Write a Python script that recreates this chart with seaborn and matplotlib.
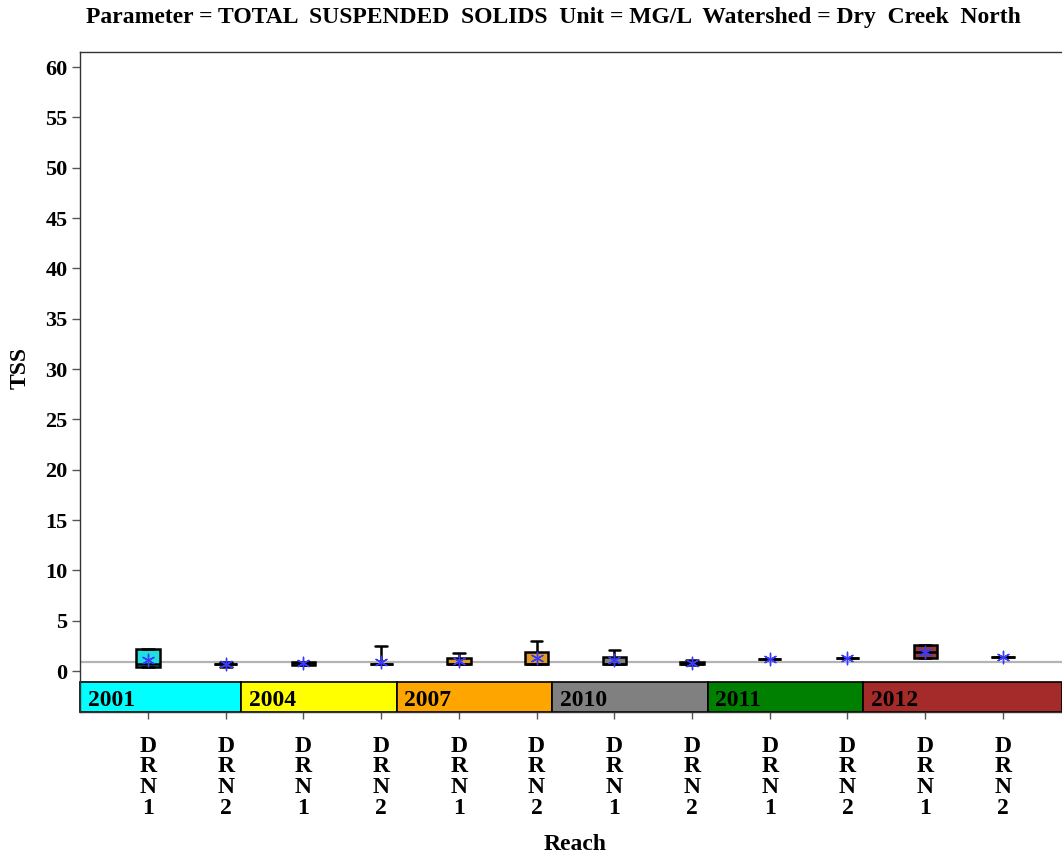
import numpy as np
import pandas as pd
import matplotlib
matplotlib.use("Agg")
import matplotlib.pyplot as plt
from matplotlib.patches import Rectangle
import seaborn as sns

# ---- data ----
years = ["2001", "2004", "2007", "2010", "2011", "2012"]
year_colors = ["#00FFFF", "#FFFF00", "#FFA500", "#808080", "#008000", "#A52A2A"]
reaches = ["DRN1", "DRN2"] * 6
box_year = [y for y in years for _ in range(2)]
box_min = [0.40, 0.40, 0.63, 0.70, 0.66, 0.66, 0.66, 0.55, 1.16, 1.29, 1.26, 1.42]
box_q1 = [0.40, 0.68, 0.63, 0.70, 0.66, 0.66, 0.66, 0.66, 1.16, 1.29, 1.26, 1.42]
box_med = [0.70, 0.70, 0.75, 0.70, 0.70, 0.70, 0.70, 0.70, 1.16, 1.29, 1.90, 1.42]
box_q3 = [2.20, 0.73, 0.90, 0.72, 1.30, 1.90, 1.42, 0.92, 1.16, 1.29, 2.55, 1.42]
box_max = [2.20, 0.86, 0.90, 2.50, 1.80, 3.00, 2.05, 1.12, 1.16, 1.29, 2.55, 1.42]
box_mean = [1.06, 0.66, 0.76, 0.86, 1.00, 1.30, 1.06, 0.80, 1.16, 1.27, 1.92, 1.36]
ref_line = 0.93
yticks = list(range(0, 61, 5))

title = "Parameter = TOTAL  SUSPENDED  SOLIDS  Unit = MG/L  Watershed = Dry  Creek  North"

# ---- long table: the five summary values per box ----
rows = []
for i in range(len(reaches)):
    for v in (box_min[i], box_q1[i], box_med[i], box_q3[i], box_max[i]):
        rows.append({"pos": i, "year": box_year[i], "TSS": v})
df = pd.DataFrame(rows)
means = pd.DataFrame({"pos": list(range(len(reaches))), "mean": box_mean})

sns.set_style("white")
plt.rcParams["font.family"] = ["Liberation Serif", "DejaVu Serif"]
plt.rcParams["font.weight"] = "bold"
plt.rcParams["text.color"] = "black"
plt.rcParams["xtick.labelcolor"] = "black"
plt.rcParams["ytick.labelcolor"] = "black"

fig = plt.figure(figsize=(10.62, 8.59), dpi=100)
ax = fig.add_axes([80 / 1062, 1 - 712 / 859, 1 - 80 / 1062, (712 - 52) / 859])

ax.axhline(ref_line, color="#b4b4b4", lw=1.6, zorder=1)

sns.boxplot(data=df, x="pos", y="TSS", hue="year", palette=dict(zip(years, year_colors)),
            dodge=False, width=0.3, whis=(0, 100), showfliers=False, linecolor="black",
            linewidth=1.8, legend=False, ax=ax, zorder=3)

sns.scatterplot(data=means, x="pos", y="mean", marker=(6, 2, 0), color="#3a3aff",
                s=80, linewidth=1.0, ax=ax, zorder=5, legend=False)

xmin, xmax = -0.875, 11.76
ymin, ymax = -4.07, 61.5
ax.set_xlim(xmin, xmax)
ax.set_ylim(ymin, ymax)

# year bands
band_top = -1.09
for i, (yr, col) in enumerate(zip(years, year_colors)):
    x0 = xmin if i == 0 else 2 * i - 0.8
    x1 = xmax if i == len(years) - 1 else 2 * i + 1.2
    ax.add_patch(Rectangle((x0, ymin), x1 - x0, band_top - ymin, facecolor=col,
                           edgecolor="black", lw=1.2, zorder=2, clip_on=False))
    ax.text(x0 + 0.1, -2.95, yr, fontsize=17, fontweight="bold", va="center",
            ha="left", color="black", zorder=4)

ax.set_yticks(yticks)
ax.set_yticklabels([str(t) for t in yticks], fontsize=16, fontweight="bold")
ax.set_xticks(range(len(reaches)))
ax.set_xticklabels(["\n".join(r) for r in reaches], fontsize=17, fontweight="bold",
                   linespacing=0.98)
ax.tick_params(axis="y", direction="out", length=6, width=1, color="#555555", pad=3, left=True)
ax.tick_params(axis="x", direction="out", length=5, width=1, color="#555555", pad=12, bottom=True)

for s in ["left", "top", "bottom"]:
    ax.spines[s].set_color("#333333")
    ax.spines[s].set_linewidth(1.0)
ax.spines["right"].set_visible(False)

ax.set_xlabel("")
ax.set_ylabel("")
fig.text(20 / 1062, 1 - 368 / 859, "TSS", rotation=90, fontsize=17, fontweight="bold",
         ha="center", va="center")
fig.text(575 / 1062, 1 - 845 / 859, "Reach", fontsize=17, fontweight="bold",
         ha="center", va="center")
fig.text(553 / 1062, 1 - 17 / 859, title, fontsize=17, fontweight="bold",
         ha="center", va="center")

fig.savefig("out.png", dpi=100)
